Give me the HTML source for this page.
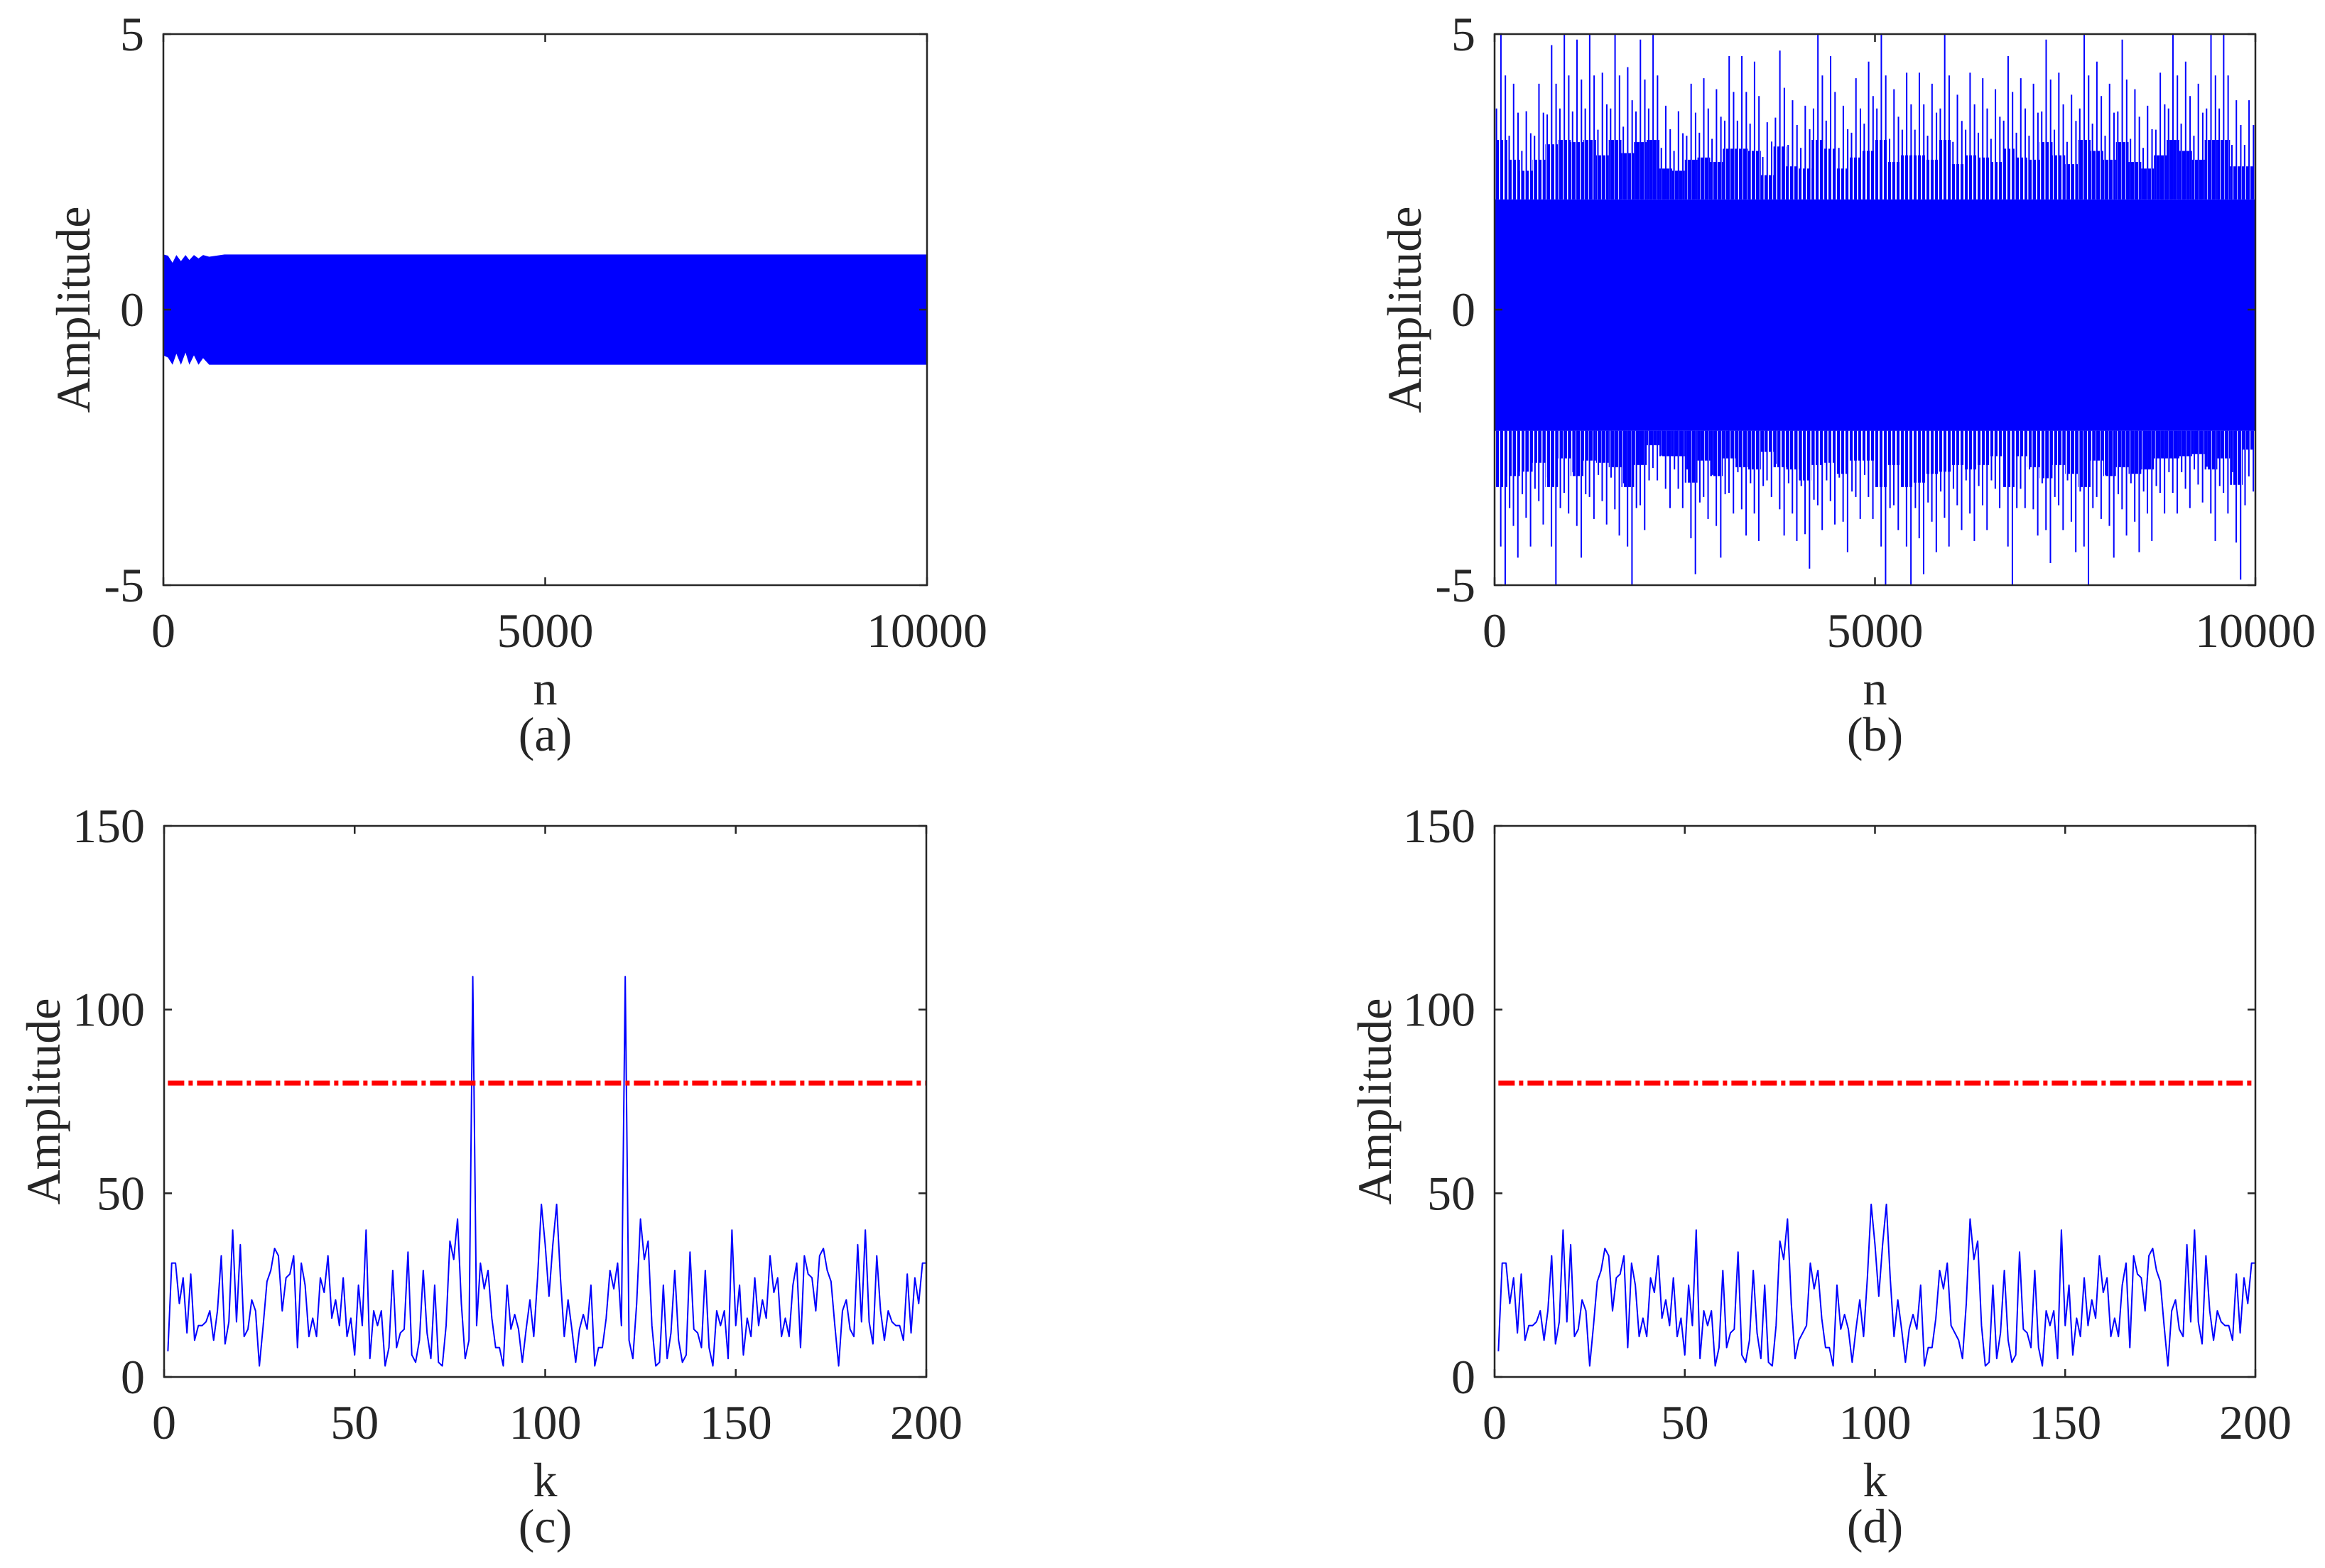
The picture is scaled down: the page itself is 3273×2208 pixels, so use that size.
<!DOCTYPE html>
<html><head><meta charset="utf-8"><style>
html,body{margin:0;padding:0;background:#fff;}
svg{display:block;}
text{font-family:"Liberation Serif","DejaVu Serif","Times New Roman",serif;fill:#262626;}
</style></head><body>
<svg id="fig" width="3273" height="2208" viewBox="0 0 3273 2208" xmlns="http://www.w3.org/2000/svg" font-family="Liberation Serif, DejaVu Serif, serif"></svg>
<script>
// ---- data ----
// (a) envelope of the multi-tone signal
const envN = [0, 60, 120, 170, 230, 290, 340, 400, 460, 520, 600, 800, 1200, 10000];
const envTop = [1.0, 0.98, 0.85, 0.99, 0.88, 0.99, 0.9, 0.99, 0.93, 0.99, 0.96, 1.0, 1.0, 1.0];
const envBot = [-0.83, -0.87, -1.0, -0.8, -1.0, -0.78, -1.0, -0.83, -1.0, -0.88, -1.0, -1.0, -1.0, -1.0];
// (b) noisy signal: per-bin spike extremes (60 bins across 0..10000)
const noiseMax = [5,4.1,3.6,4.1,4.8,5,4.9,5,4.3,5,4.4,4.9,5,3.7,3.6,4.1,4.2,4.0,4.6,4.6,4.5,3.4,4.7,3.8,3.7,5,4.6,3.7,4.2,4.5,5,4.0,4.3,4.3,4.1,5,3.9,4.3,4.2,4.0,4.6,4.2,4.1,4.9,4.3,3.9,5,4.5,4.1,4.9,4.0,3.7,4.3,5,4.5,4.1,5,5,3.8,3.8];
const noiseMin = [-5,-4.5,-4.3,-3.9,-5,-3.7,-4.5,-3.8,-3.9,-4.1,-5,-4.0,-3.1,-3.6,-3.6,-4.8,-3.8,-4.5,-3.7,-4.1,-4.2,-3.4,-4.1,-4.2,-4.7,-4.0,-3.9,-4.4,-3.8,-3.8,-5,-4.0,-5,-4.8,-4.4,-4.3,-4.0,-4.2,-4.0,-3.6,-5,-3.6,-4.1,-4.6,-4.0,-4.4,-5,-3.8,-4.5,-4.1,-4.4,-4.2,-3.7,-3.7,-3.6,-3.5,-4.2,-3.7,-4.9,-3.3];
const coreTop = 2.0, coreBot = -2.2;
// (c) spectrum k=1..101 (second half mirrored: X[k]=X[202-k])
const specHalf = [7,31,31,20,27,12,28,10,14,14,15,18,10,18,33,9,15,40,15,36,11,13,21,18,3,14,26,29,35,33,18,27,28,33,8,31,25,11,16,11,27,23,33,16,21,14,27,11,16,6,25,14,40,5,18,14,18,3,8,29,8,12,13,34,6,4,10,29,12,5,25,4,3,14,37,32,43,20,5,10,109,14,31,24,29,16,8,8,3,25,13,17,13,4,13,21,11,27,47,36,22];
const peakK = [81, 121];
const dReplace = 12;
const threshold = 80;
const yTicksAB = [-5, 0, 5];
const xTicksAB = [0, 5000, 10000];
const yTicksCD = [0, 50, 100, 150];
const xTicksCD = [0, 50, 100, 150, 200];

const NS = "http://www.w3.org/2000/svg";
const svg = document.getElementById('fig');
const FONT = 'Liberation Serif, DejaVu Serif, serif';
function el(tag, attrs, parent){const e=document.createElementNS(NS,tag);for(const k in attrs)e.setAttribute(k,attrs[k]);(parent||svg).appendChild(e);return e;}

{
  const defs=el('defs',{});
  const pat=el('pattern',{id:'stripes',width:6,height:10,patternUnits:'userSpaceOnUse'},defs);
  el('rect',{x:0,y:0,width:4,height:10,fill:'#0000ff'},pat);
}

function makeAxes(cfg){
  const g = el('g',{});
  
  
  const sx = v => cfg.x0 + (v-cfg.xmin)/(cfg.xmax-cfg.xmin)*(cfg.x1-cfg.x0);
  const sy = v => cfg.y1 - (v-cfg.ymin)/(cfg.ymax-cfg.ymin)*(cfg.y1-cfg.y0);
  const clipId = 'clip-'+cfg.id;
  const cp = el('clipPath',{id:clipId},g);
  el('rect',{x:cfg.x0,y:cfg.y0,width:cfg.x1-cfg.x0,height:cfg.y1-cfg.y0},cp);
  const plot = el('g',{'clip-path':'url(#'+clipId+')'},g);
  
  
  return {g, plot, sx, sy, cfg};
}
function finishAxes(ax, xt, yt, xlabel, caption){
  const {g, sx, sy, cfg} = ax;
  const box = el('rect',{x:cfg.x0,y:cfg.y0,width:cfg.x1-cfg.x0,height:cfg.y1-cfg.y0,fill:'none',stroke:'#262626','stroke-width':2.5},g);
  
  
  const L=11;
  xt.forEach(v=>{
    const x=sx(v);
    el('line',{x1:x,y1:cfg.y1,x2:x,y2:cfg.y1-L,stroke:'#262626','stroke-width':2.5},g);
    el('line',{x1:x,y1:cfg.y0,x2:x,y2:cfg.y0+L,stroke:'#262626','stroke-width':2.5},g);
    const t=el('text',{x:x,y:cfg.y1+87,'font-size':68,'text-anchor':'middle','font-family':FONT},g);
    t.textContent=v;
    
    
  });
  yt.forEach(v=>{
    const y=sy(v);
    el('line',{x1:cfg.x0,y1:y,x2:cfg.x0+L,y2:y,stroke:'#262626','stroke-width':2.5},g);
    el('line',{x1:cfg.x1,y1:y,x2:cfg.x1-L,y2:y,stroke:'#262626','stroke-width':2.5},g);
    const t=el('text',{x:cfg.x0-27,y:y+23,'font-size':68,'text-anchor':'end','font-family':FONT},g);
    t.textContent=v;
    
    
  });
  const xl=el('text',{x:(cfg.x0+cfg.x1)/2,y:cfg.y1+168,'font-size':68,'text-anchor':'middle','font-family':FONT},g);
  xl.textContent=xlabel;
  
  
  const cap=el('text',{x:(cfg.x0+cfg.x1)/2,y:cfg.y1+233,'font-size':68,'text-anchor':'middle','font-family':FONT},g);
  cap.textContent=caption;
  
  
  const cy=(cfg.y0+cfg.y1)/2;
  const yl=el('text',{x:cfg.ylx,y:cy,'font-size':68,'text-anchor':'middle','font-family':FONT,transform:'rotate(-90 '+cfg.ylx+' '+cy+')'},g);
  yl.textContent='Amplitude';
  
  
}

// Panel (a)
const A = makeAxes({id:'a',x0:230,x1:1305,y0:48,y1:824,xmin:0,xmax:10000,ymin:-5,ymax:5,ylx:126});
{
  let pts=[];
  envN.forEach((n,i)=>pts.push(A.sx(n)+','+A.sy(envTop[i])));
  for(let i=envN.length-1;i>=0;i--) pts.push(A.sx(envN[i])+','+A.sy(envBot[i]));
  const p=el('polygon',{points:pts.join(' '),fill:'#0000ff'},A.plot);
  
  
}
finishAxes(A, xTicksAB, yTicksAB, 'n', '(a)');

// Panel (b)
const B = makeAxes({id:'b',x0:2104,x1:3175,y0:48,y1:824,xmin:0,xmax:10000,ymin:-5,ymax:5,ylx:2000});
{
  const nb=noiseMax.length, w=10000/nb;
  noiseMax.forEach((v,i)=>{
    const lo=noiseMin[i];
    const x0=B.sx(i*w), x1=B.sx((i+1)*w);
    const ft = coreTop+0.8+(v-4.3)*0.4, fbv = coreBot-0.7+(lo+4.2)*0.4;
    const fr=el('rect',{x:x0,y:B.sy(ft),width:x1-x0,height:B.sy(coreTop)-B.sy(ft),fill:'url(#stripes)'},B.plot);
    
    
    const fb=el('rect',{x:x0,y:B.sy(coreBot),width:x1-x0,height:B.sy(fbv)-B.sy(coreBot),fill:'url(#stripes)'},B.plot);
    
    
    [0.15,0.5,0.85].forEach((f,j)=>{
      const x=B.sx((i+f)*w);
      const top = j===1 ? v : coreTop + (v-coreTop)*(j===0?0.55:0.75);
      const bot = j===1 ? lo : coreBot + (lo-coreBot)*(j===0?0.75:0.5);
      const ln=el('line',{x1:x,y1:B.sy(top),x2:x,y2:B.sy(coreTop),stroke:'#0000ff','stroke-width':2},B.plot);
      
      
      const ln2=el('line',{x1:x+6,y1:B.sy(coreBot),x2:x+6,y2:B.sy(bot),stroke:'#0000ff','stroke-width':2},B.plot);
      
      
    });
  });
  const core=el('rect',{x:B.sx(0),y:B.sy(coreTop),width:B.sx(10000)-B.sx(0),height:B.sy(coreBot)-B.sy(coreTop),fill:'#0000ff'},B.plot);
  
  
}
finishAxes(B, xTicksAB, yTicksAB, 'n', '(b)');

// Spectrum arrays
const kVals=[], cVals=[], dVals=[];
for(let k=1;k<=201;k++){
  const v = k<=101 ? specHalf[k-1] : specHalf[202-k-1];
  kVals.push(k); cVals.push(v);
  dVals.push(peakK.includes(k) ? dReplace : v);
}
function drawSpec(ax, vals, id){
  const pts=kVals.map((k,i)=>ax.sx(k)+','+ax.sy(vals[i])).join(' ');
  const pl=el('polyline',{points:pts,fill:'none',stroke:'#0000ff','stroke-width':2,'stroke-linejoin':'round'},ax.plot);
  
  
  const th=el('line',{x1:ax.sx(1),y1:ax.sy(threshold),x2:ax.sx(200),y2:ax.sy(threshold),stroke:'#ff0000','stroke-width':7,'stroke-dasharray':'23 6 6 6'},ax.plot);
  
  
}
const C = makeAxes({id:'c',x0:231,x1:1304,y0:1163,y1:1939,xmin:0,xmax:200,ymin:0,ymax:150,ylx:84});
drawSpec(C, cVals, 'c');
finishAxes(C, xTicksCD, yTicksCD, 'k', '(c)');
const D = makeAxes({id:'d',x0:2104,x1:3175,y0:1163,y1:1939,xmin:0,xmax:200,ymin:0,ymax:150,ylx:1958});
drawSpec(D, dVals, 'd');
finishAxes(D, xTicksCD, yTicksCD, 'k', '(d)');
</script>
</body></html>
